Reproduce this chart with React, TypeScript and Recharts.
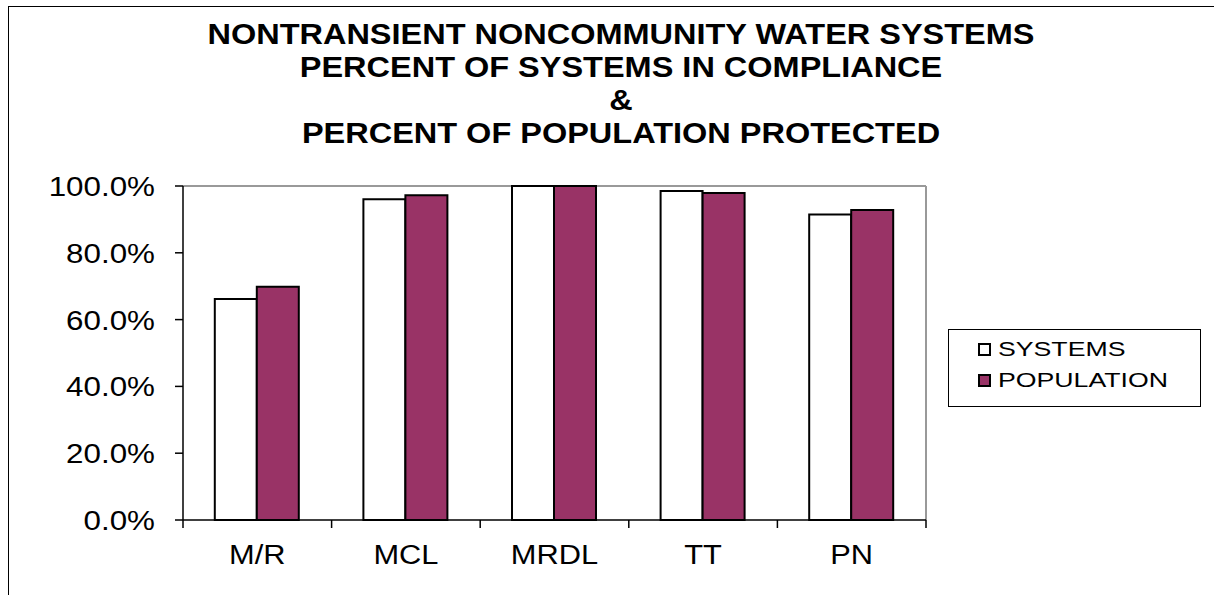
import { Bar, BarChart, CartesianGrid, Legend, XAxis, YAxis } from 'recharts'

const categories = ['M/R', 'MCL', 'MRDL', 'TT', 'PN']
const systemsPct = [66.2, 96.0, 100, 98.5, 91.5]
const populationPct = [69.8, 97.2, 100, 97.9, 92.8]
const seriesNames = ['SYSTEMS', 'POPULATION']
const yTicks = [0, 20, 40, 60, 80, 100]
const titleLines = [
  'NONTRANSIENT NONCOMMUNITY WATER SYSTEMS',
  'PERCENT OF SYSTEMS IN COMPLIANCE',
  '&',
  'PERCENT OF POPULATION PROTECTED',
]

const data = categories.map((name, i) => ({
  name,
  systems: systemsPct[i],
  population: populationPct[i],
}))

const FONT = '"Liberation Sans", Arial, sans-serif'
const PLUM = '#993366'
const X_GAP = 24 // distance from axis line to label anchor
const X_TICK = 8

const stretch = (x: number, k: number) => `translate(${x} 0) scale(${k} 1) translate(${-x} 0)`

function YTick({ x, y, payload }: any) {
  return (
    <text x={x} y={y} dy="0.355em" textAnchor="end" fontSize={28} fontFamily={FONT} fill="#000" transform={stretch(x, 1.12)}>
      {`${Number(payload.value).toFixed(1)}%`}
    </text>
  )
}

// category labels, plus the tick marks on the category boundaries (Excel style)
function XTick({ x, y, payload, index }: any) {
  const half = payload && payload.offset ? payload.offset : 74.3
  const axisY = y - X_GAP
  const last = index === categories.length - 1
  return (
    <g>
      <line x1={x - half} x2={x - half} y1={axisY} y2={axisY + X_TICK} stroke="#000" strokeWidth={1.5} />
      {last && <line x1={x + half} x2={x + half} y1={axisY} y2={axisY + X_TICK} stroke="#000" strokeWidth={1.5} />}
      <text x={x} y={y} dy={20} textAnchor="middle" fontSize={28} fontFamily={FONT} fill="#000" transform={stretch(x, 1.1)}>
        {payload.value}
      </text>
    </g>
  )
}

function LegendBox({ payload }: any) {
  const items = seriesNames
    .map((n) => (payload || []).find((p: any) => p.value === n))
    .filter(Boolean)
  return (
    <svg width={253} height={78} style={{ display: 'block' }}>
      <rect x={0.5} y={0.5} width={252} height={77} fill="#fff" stroke="#000" />
      {items.map((p: any, i: number) => (
        <g key={p.value}>
          <rect
            x={31}
            y={15 + i * 31}
            width={11}
            height={11}
            fill={p.color}
            stroke="#000"
            strokeWidth={2}
          />
          <text x={50} y={27.5 + i * 31} fontSize={21} fontFamily={FONT} fill="#000" transform={stretch(50, 1.27)}>
            {p.value}
          </text>
        </g>
      ))}
    </svg>
  )
}

export default function App() {
  return (
    <div
      style={{
        position: 'absolute',
        left: 0,
        top: 0,
        width: 1214,
        height: 595,
        overflow: 'hidden',
        background: '#fff',
      }}
    >
      <div
        style={{
          position: 'absolute',
          left: 8,
          top: 6,
          width: 1300,
          height: 700,
          borderLeft: '1px solid #000',
          borderTop: '1px solid #000',
        }}
      />
      <BarChart
        width={1214}
        height={595}
        data={data}
        margin={{ top: 186, right: 288, bottom: 15, left: 0 }}
        barCategoryGap="21.4%"
        barGap={0}
        style={{ position: 'absolute', left: 0, top: 0 }}
      >
        <CartesianGrid
          stroke="#999"
          strokeWidth={2}
          horizontalCoordinatesGenerator={({ offset }: any) => [offset.top]}
          verticalCoordinatesGenerator={({ offset }: any) => [offset.left + offset.width]}
        />
        <XAxis
          dataKey="name"
          height={60}
          stroke="#000"
          strokeWidth={1.5}
          tickLine={false}
          tickSize={0}
          tickMargin={X_GAP}
          tick={<XTick />}
          interval={0}
        />
        <YAxis
          domain={[0, 100]}
          ticks={yTicks}
          width={183}
          tickSize={8}
          tickMargin={20}
          tick={<YTick />}
          stroke="#000"
          strokeWidth={1.5}
          interval={0}
        />
        <Legend
          layout="horizontal"
          verticalAlign="middle"
          align="center"
          content={<LegendBox />}
          wrapperStyle={{ left: 948, top: 329, width: 253, height: 78 }}
        />
        <Bar dataKey="systems" name={seriesNames[0]} fill="#fff" stroke="#000" strokeWidth={2} isAnimationActive={false} />
        <Bar dataKey="population" name={seriesNames[1]} fill={PLUM} stroke="#000" strokeWidth={2} isAnimationActive={false} />
      </BarChart>
      <div
        style={{
          position: 'absolute',
          left: 0,
          top: 17.5,
          width: 1242,
          textAlign: 'center',
          fontFamily: FONT,
          fontWeight: 'bold',
          fontSize: 29,
          lineHeight: '33px',
          color: '#000',
          transform: 'scaleX(1.12)',
          transformOrigin: '621px 0',
        }}
      >
        {titleLines.map((line) => (
          <div key={line}>{line}</div>
        ))}
      </div>
    </div>
  )
}
